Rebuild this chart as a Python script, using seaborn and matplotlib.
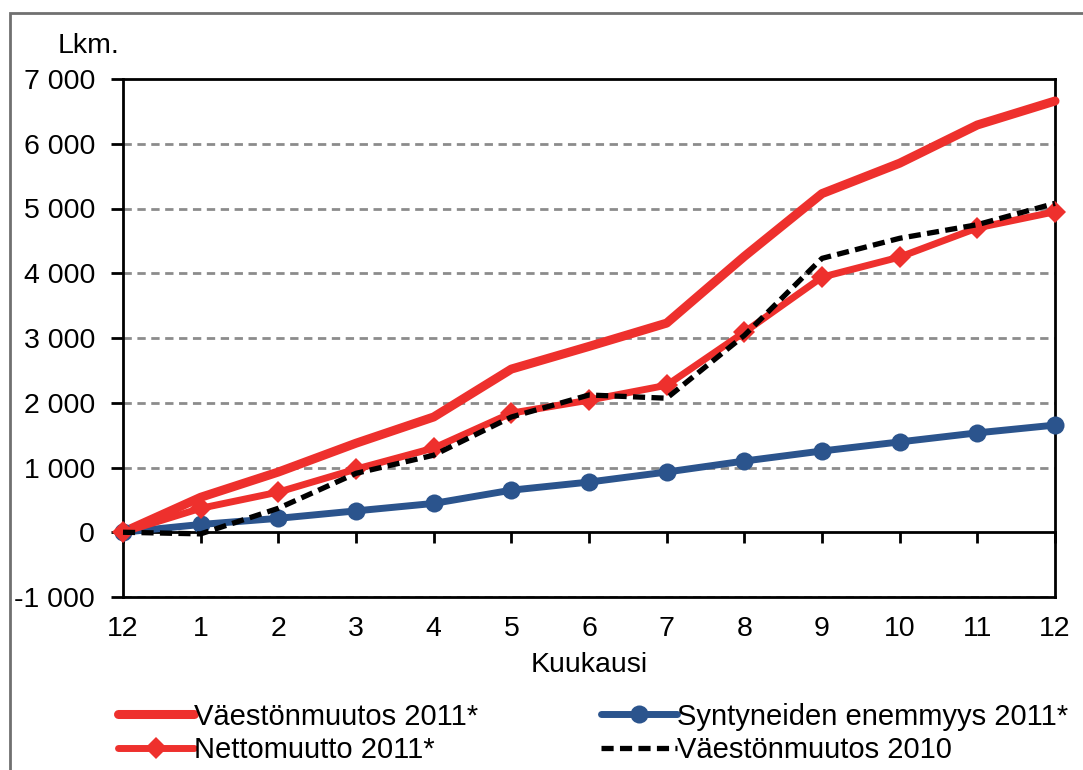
import matplotlib
matplotlib.use('Agg')
import matplotlib.pyplot as plt
from matplotlib.ticker import FuncFormatter, MultipleLocator
from matplotlib.patches import Rectangle
import seaborn as sns
import pandas as pd
import numpy as np

# data
months = ['12', '1', '2', '3', '4', '5', '6', '7', '8', '9', '10', '11', '12']
vaesto_2011 = [0, 540, 930, 1375, 1780, 2520, 2870, 3230, 4260, 5230, 5700, 6290, 6660]
synt_2011 = [0, 120, 215, 330, 445, 650, 775, 930, 1100, 1255, 1395, 1535, 1655]
netto_2011 = [0, 370, 620, 975, 1300, 1840, 2040, 2270, 3090, 3940, 4250, 4700, 4950]
vaesto_2010 = [0, -25, 370, 910, 1190, 1780, 2120, 2070, 3040, 4230, 4540, 4750, 5080]

labels = ['Väestönmuutos 2011*', 'Syntyneiden enemmyys 2011*',
          'Nettomuutto 2011*', 'Väestönmuutos 2010']

red = '#EE302D'
blue = '#2B548D'
grid_color = '#8C8C8C'
fs = 20.5
legend_fs = 21

df = pd.DataFrame({
    'pos': np.arange(len(months)),
    'v2011': vaesto_2011,
    's2011': synt_2011,
    'n2011': netto_2011,
    'v2010': vaesto_2010,
})

sns.set_style('white')
plt.rcParams['font.family'] = ['Liberation Sans', 'DejaVu Sans']
plt.rcParams['text.color'] = 'black'
plt.rcParams['xtick.color'] = 'black'
plt.rcParams['ytick.color'] = 'black'
plt.rcParams['axes.labelcolor'] = 'black'

fig = plt.figure(figsize=(10.83, 7.7), dpi=100)
ax = fig.add_axes([123 / 1083, 1 - 597 / 770, (1055 - 123) / 1083, (597 - 79) / 770])

# dashed gridlines
for v in range(-1000, 7000, 1000):
    if v != 0:
        ax.axhline(v, color=grid_color, lw=2, ls=(0, (3, 2)), zorder=0)

sns.lineplot(data=df, x='pos', y='v2011', color=red, lw=6.5, ax=ax,
             label=labels[0], clip_on=False, zorder=3, solid_capstyle='round')
sns.lineplot(data=df, x='pos', y='s2011', color=blue, lw=5, marker='o',
             markersize=13, markeredgewidth=0, ax=ax, label=labels[1],
             clip_on=False, zorder=4, solid_capstyle='round')
sns.lineplot(data=df, x='pos', y='n2011', color=red, lw=5, marker='D',
             markersize=11.5, markeredgewidth=0, ax=ax, label=labels[2],
             clip_on=False, zorder=5, solid_capstyle='round')
sns.lineplot(data=df, x='pos', y='v2010', color='black', lw=3.8,
             ls=(0, (2.3, 1.2)), ax=ax, label=labels[3], clip_on=False, zorder=6)

ax.set_xlim(0, len(months) - 1)
ax.set_ylim(-1000, 7000)
ax.yaxis.set_major_locator(MultipleLocator(1000))
ax.yaxis.set_major_formatter(FuncFormatter(lambda v, p: f"{int(v):,}".replace(',', ' ')))
ax.set_xticks(df['pos'])
ax.set_xticklabels(months)
ax.tick_params(axis='x', length=0, pad=14, labelsize=fs)
ax.tick_params(axis='y', length=9, width=2, direction='out', pad=11, labelsize=fs, left=True)
for s in ax.spines.values():
    s.set_visible(True)
    s.set_color('black')
    s.set_linewidth(2)

# category axis crossing at zero
sec = ax.secondary_xaxis(1000 / 8000)
sec.set_xticks(df['pos'])
sec.set_xticklabels([])
sec.tick_params(axis='x', length=8, width=2, direction='out', color='black')
sec.spines['bottom'].set_linewidth(2)
sec.spines['bottom'].set_color('black')

ax.set_xlabel('Kuukausi', fontsize=fs, labelpad=7)
ax.set_ylabel('')
fig.text(58 / 1083, 1 - 46 / 770, 'Lkm.', fontsize=fs, va='center', ha='left')

handles, labs = ax.get_legend_handles_labels()
ax.legend_.remove()
order = [0, 2, 1, 3]
fig.legend([handles[i] for i in order], [labs[i] for i in order],
           loc='lower left', bbox_to_anchor=(106 / 1083, -0.008), ncol=2,
           frameon=False, fontsize=legend_fs, handlelength=2.6, handletextpad=0.02,
           columnspacing=4.2, labelspacing=0.2, borderaxespad=0)

fig.patches.append(Rectangle((10 / 1083, -0.1), 1.2, 1 - 13 / 770 + 0.1,
                             transform=fig.transFigure, fill=False,
                             edgecolor='#707070', lw=2))

fig.savefig('out.png', dpi=100)
